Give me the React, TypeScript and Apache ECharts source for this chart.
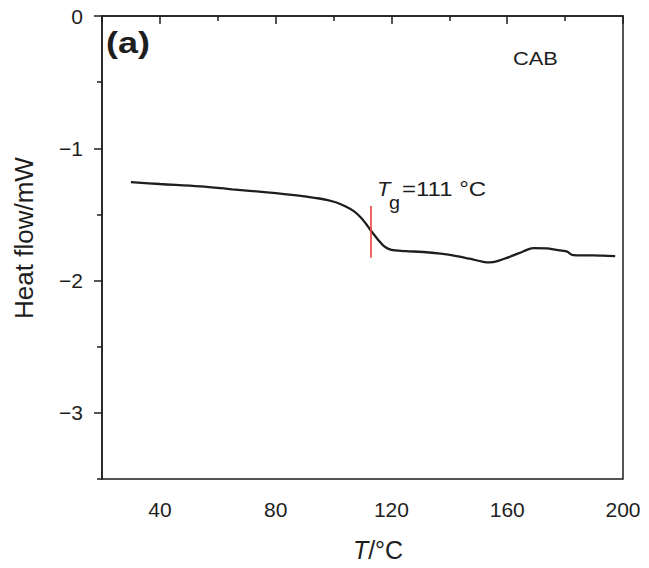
import React, { useEffect, useRef } from "react";
import * as echarts from "echarts";

const temps = [30, 40, 54, 65, 77, 88, 94, 98, 101, 104, 107, 109.5, 111.5, 113.7, 115.5, 117.2, 119, 121.2, 125, 131, 137, 142.5, 147, 151.7, 154, 156.3, 159, 162.1, 165.5, 169, 173.6, 177, 180.5, 182.8, 186, 189.7, 193, 197.3];
const heatFlow = [-1.256, -1.27, -1.288, -1.31, -1.333, -1.358, -1.376, -1.391, -1.41, -1.438, -1.475, -1.525, -1.58, -1.645, -1.695, -1.735, -1.76, -1.772, -1.778, -1.784, -1.797, -1.815, -1.835, -1.858, -1.862, -1.855, -1.835, -1.81, -1.78, -1.754, -1.757, -1.768, -1.78, -1.808, -1.81, -1.81, -1.812, -1.815];

const xMajorTicks = [40, 80, 120, 160, 200];
const xMinorTicks = [20, 60, 100, 140, 180];
const yMajorTicks = [0, -1, -2, -3];
const yMinorTicks = [-0.5, -1.5, -2.5, -3.5];

const tgValue = 113;
const tgLine = [-1.436, -1.827];

const FONT = "'Liberation Sans', Arial, Helvetica, sans-serif";
const INK = "#1e1e1e";

export default function App() {
  const ref = useRef<HTMLDivElement>(null);
  useEffect(() => {
    document.body.style.margin = "0";
    const chart = echarts.init(ref.current!, null, { renderer: "svg" });
    const fmtY = (v: number) => (v < 0 ? "\u2212" + Math.abs(v) : String(v));
    chart.setOption({
      animation: false,
      backgroundColor: "#fff",
      grid: { left: 102, right: 26, top: 16, bottom: 89, show: true, borderColor: INK, borderWidth: 1.5, backgroundColor: "transparent" },
      xAxis: [
        {
          type: "value", min: 20, max: 200, interval: 20, position: "bottom",
          axisLine: { show: true, lineStyle: { color: INK, width: 1.5 } },
          axisTick: { show: true, customValues: xMajorTicks, length: 8, lineStyle: { color: INK, width: 1.5 } },
          axisLabel: { customValues: xMajorTicks, fontSize: 21, color: INK, fontFamily: FONT, margin: 20 },
          splitLine: { show: false },
        },
        {
          type: "value", min: 20, max: 200, interval: 20, position: "bottom",
          axisLine: { show: false },
          axisTick: { show: true, customValues: xMinorTicks, length: 5, lineStyle: { color: INK, width: 1.5 } },
          axisLabel: { show: false },
          splitLine: { show: false },
        },
      ],
      yAxis: [
        {
          type: "value", min: -3.5, max: 0, interval: 0.5, position: "left",
          axisLine: { show: true, lineStyle: { color: INK, width: 1.5 } },
          axisTick: { show: true, customValues: yMajorTicks, length: 8, lineStyle: { color: INK, width: 1.5 } },
          axisLabel: { customValues: yMajorTicks, formatter: fmtY, fontSize: 21, color: INK, fontFamily: FONT, margin: 19 },
          splitLine: { show: false },
        },
        {
          type: "value", min: -3.5, max: 0, interval: 0.5, position: "left",
          axisLine: { show: false },
          axisTick: { show: true, customValues: yMinorTicks, length: 5, lineStyle: { color: INK, width: 1.5 } },
          axisLabel: { show: false },
          splitLine: { show: false },
        },
      ],
      series: [
        {
          type: "line",
          data: temps.map((t, i) => [t, heatFlow[i]]),
          smooth: 0.35,
          showSymbol: false,
          lineStyle: { color: INK, width: 2.3 },
          markLine: {
            silent: true,
            symbol: ["none", "none"],
            label: { show: false },
            lineStyle: { color: "#e8403a", width: 1.6, type: "solid" },
            data: [[{ coord: [tgValue, tgLine[0]] }, { coord: [tgValue, tgLine[1]] }]],
          },
        },
      ],
      graphic: [
        { type: "text", left: 106, top: 28, scaleX: 1.2, style: { text: "(a)", fontSize: 30, fontWeight: "bold", fill: INK, fontFamily: FONT } },
        { type: "text", x: 513, y: 58, scaleX: 1.15, style: { text: "CAB", fontSize: 19, fill: INK, fontFamily: FONT, verticalAlign: "middle" } },
        { type: "text", x: 377, y: 189, scaleX: 1.1, style: { text: "T", fontSize: 20, fontStyle: "italic", fill: INK, fontFamily: FONT, verticalAlign: "middle" } },
        { type: "text", x: 389, y: 203, scaleX: 1.1, style: { text: "g", fontSize: 18, fill: INK, fontFamily: FONT, verticalAlign: "middle" } },
        { type: "text", x: 402, y: 189, scaleX: 1.2, style: { text: "=111 \u00B0C", fontSize: 20, fill: INK, fontFamily: FONT, verticalAlign: "middle" } },
        {
          type: "text", x: 378, y: 550,
          style: {
            text: "{i|T}{n|/\u00B0C}", align: "center", verticalAlign: "middle",
            rich: {
              i: { fontSize: 25, fontStyle: "italic", fill: INK, fontFamily: FONT },
              n: { fontSize: 25, fill: INK, fontFamily: FONT },
            },
          },
        },
        { type: "text", x: 24, y: 238, rotation: Math.PI / 2, style: { text: "Heat flow/mW", fontSize: 26, fill: INK, fontFamily: FONT, align: "center", verticalAlign: "middle" } },
      ],
    });
    return () => chart.dispose();
  }, []);
  return <div ref={ref} style={{ width: 649, height: 568 }} />;
}
